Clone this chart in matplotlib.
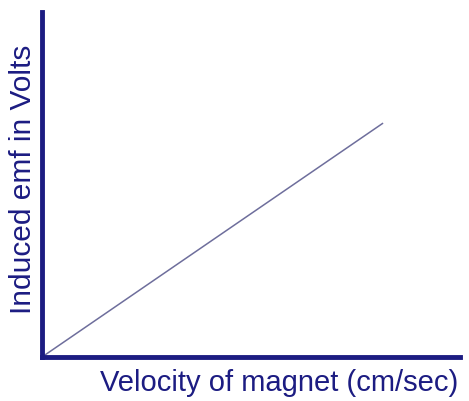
import matplotlib
matplotlib.use("Agg")
import matplotlib.pyplot as plt

velocity = [0, 8.16]
emf = [0, 6.78]
x_label = "Velocity of magnet (cm/sec)"
y_label = "Induced emf in Volts"

navy = "#1c1c82"
fig = plt.figure(figsize=(4.69, 4.01), dpi=100)
ax = fig.add_axes([42/469, 44/401, (460-42)/469, (357-12)/401])
ax.plot(velocity, emf, color="#6e6e9c", lw=1.1, solid_capstyle="butt")
ax.set_xlim(0, 10)
ax.set_ylim(0, 10)
for s in ["top", "right"]:
    ax.spines[s].set_visible(False)
for s in ["left", "bottom"]:
    ax.spines[s].set_color(navy)
    ax.spines[s].set_linewidth(3.5)
ax.set_xticks([])
ax.set_yticks([])
ax.text(0.997, -0.035, x_label, transform=ax.transAxes, ha="right", va="top",
        fontsize=21, color=navy, family="Liberation Sans")
ax.text(-0.012, 0.515, y_label, transform=ax.transAxes, ha="right", va="center",
        rotation=90, fontsize=21.5, color=navy, family="Liberation Sans")
fig.savefig("out.png", dpi=100)
